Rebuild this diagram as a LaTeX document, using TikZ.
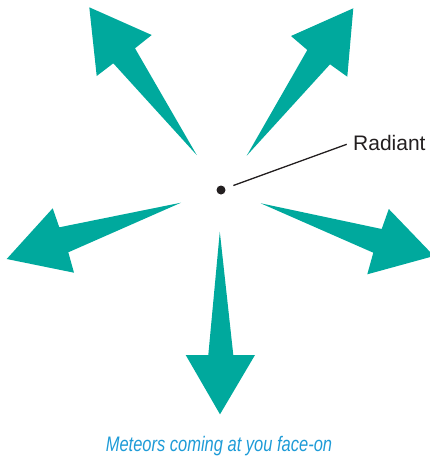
\documentclass[tikz,border=0pt]{standalone}
\usepackage{fontspec}
\usepackage{graphicx}
\setmainfont{Liberation Sans}
\definecolor{meteor}{RGB}{0,169,157}
\definecolor{capblue}{RGB}{30,155,215}
\definecolor{inkdark}{RGB}{35,31,32}
\begin{document}
\begin{tikzpicture}[x=1pt,y=-1pt,
  meteorarrow/.style={fill=meteor,draw=none},
  labeltext/.style={font=\fontsize{21}{24}\selectfont,text=inkdark,inner sep=0pt},
  captiontext/.style={font=\fontsize{21}{24}\selectfont\itshape,text=capblue,inner sep=0pt},
  leader/.style={draw=inkdark,line width=1.3pt}]
\useasboundingbox (0,0) rectangle (430,456);
\clip (0,0) rectangle (430,456);
% upper left meteor
\fill[meteorarrow] (196.7,155) -- (135,48.3) -- (151.7,35) -- (89.3,7.3) -- (96.7,76) -- (113.3,63.3) -- cycle;
% upper right meteor
\fill[meteorarrow] (246.7,155.7) -- (307.3,50) -- (291,36) -- (353.3,8.3) -- (347.3,76.7) -- (330,64.3) -- cycle;
% left meteor
\fill[meteorarrow] (181,202.7) -- (59.3,227.3) -- (52.7,208.3) -- (6.7,259) -- (74,272.7) -- (68.3,252.3) -- cycle;
% right meteor
\fill[meteorarrow] (260.7,203.3) -- (381.7,229) -- (388.8,209) -- (434,256) -- (367.3,274.3) -- (373.3,252.7) -- cycle;
% down meteor
\fill[meteorarrow] (219.8,231.7) -- (233.3,355) -- (255,355) -- (220,414.3) -- (185.7,355) -- (208.3,355) -- cycle;
% radiant
\node[circle,fill=inkdark,minimum size=9pt,inner sep=0pt] (dot) at (221,190) {};
\coordinate (lend) at (346.7,144.3);
\node[labeltext,anchor=base west] (radiant) at (353,150) {Radiant};
\draw[leader,shorten <=8.5pt] (dot) -- (lend);
% caption
\node[captiontext,anchor=base] (caption) at (219,451.5) {\scalebox{0.785}[1]{Meteors coming at you face-on}};
\end{tikzpicture}
\end{document}
